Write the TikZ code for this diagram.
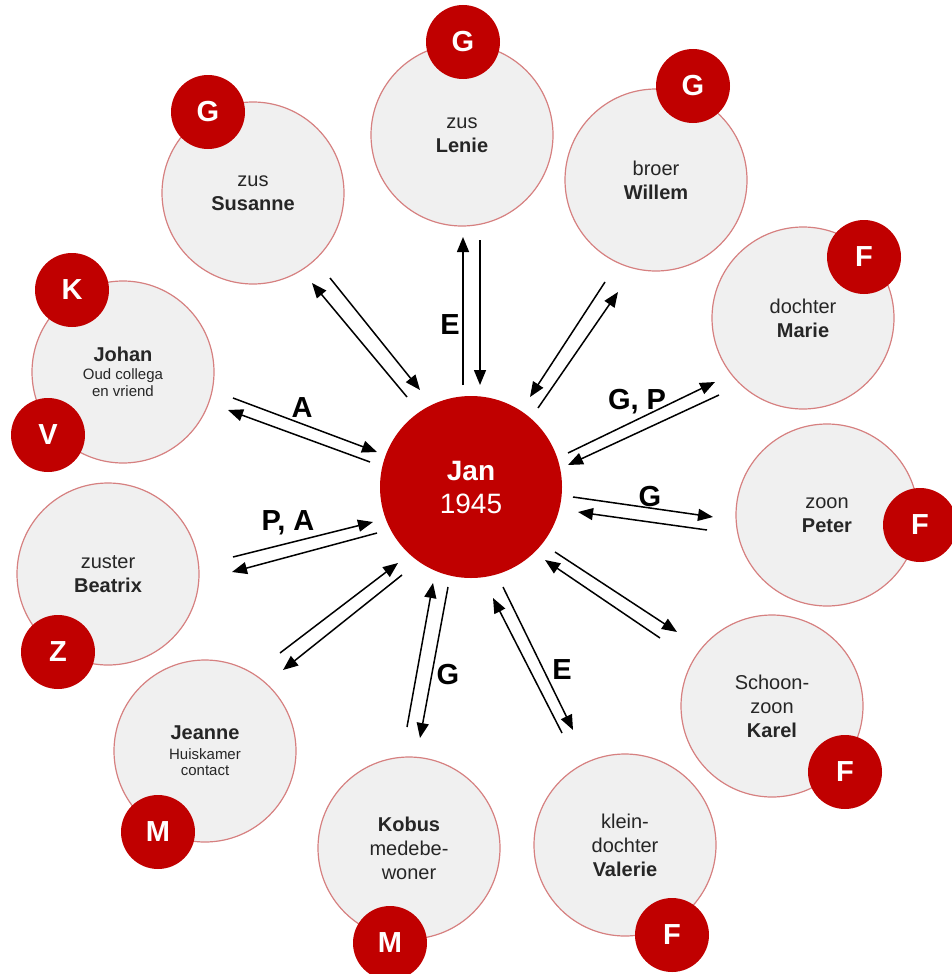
\documentclass[tikz,border=0pt]{standalone}
\usepackage{fontspec}
\setmainfont{Liberation Sans}
\usepackage{xcolor}
\usetikzlibrary{arrows.meta, calc}

\definecolor{JanRed}{RGB}{192,0,0}
\definecolor{DiscGrey}{RGB}{240,240,240}
\definecolor{RimRed}{RGB}{214,128,128}
\definecolor{InkGrey}{RGB}{38,38,38}

\newcommand{\fijn}{\fontsize{15}{17}\selectfont}

\tikzset{
	person/.style={circle, minimum size=182pt, inner sep=0pt, fill=DiscGrey, draw=RimRed, line width=1.2pt,
		text=InkGrey, align=center, font=\fontsize{20}{24}\selectfont},
	centre/.style={circle, minimum size=182pt, inner sep=0pt, fill=JanRed, text=white, align=center,
		font=\fontsize{28}{33}\selectfont},
	badge/.style={circle, minimum size=74pt, inner sep=0pt, fill=JanRed, text=white,
		font=\fontsize{29}{29}\selectfont\bfseries},
	rel/.style={line width=1.5pt, -{Triangle[length=15pt, width=12pt]}},
	tag/.style={font=\fontsize{29}{29}\selectfont\bfseries}
}

\begin{document}
\begin{tikzpicture}[x=1pt, y=-1pt]

	\useasboundingbox (0,0) rectangle (951,974);

	% kring rond Jan
	\node[person] (susanne) at (253,193) {zus\\\textbf{Susanne}};
	\node[person] (lenie) at (462,135) {zus\\\textbf{Lenie}};
	\node[person] (willem) at (656,180) {broer\\\textbf{Willem}};
	\node[person] (marie) at (803,318) {dochter\\\textbf{Marie}};
	\node[person] (peter) at (827,515) {zoon\\\textbf{Peter}};
	\node[person] (karel) at (772,706) {Schoon-\\zoon\\\textbf{Karel}};
	\node[person] (valerie) at (625,845) {klein-\\dochter\\\textbf{Valerie}};
	\node[person] (kobus) at (409,848) {\textbf{Kobus}\\medebe-\\woner};
	\node[person] (jeanne) at (205,751) {\textbf{Jeanne}\\[-4pt]\fijn Huiskamer\\[-8pt]\fijn contact};
	\node[person] (beatrix) at (108,574) {zuster\\\textbf{Beatrix}};
	\node[person] (johan) at (123,372) {\textbf{Johan}\\[-6pt]\fijn Oud collega\\[-7pt]\fijn en vriend};

	\node[centre] (jan) at (471,487) {\textbf{Jan}\\1945};

	\node[badge] (susanne-g) at (208,112) {G};
	\node[badge] (lenie-g) at (463,42) {G};
	\node[badge] (willem-g) at (693,86) {G};
	\node[badge] (marie-f) at (864,257) {F};
	\node[badge] (peter-f) at (920,525) {F};
	\node[badge] (karel-f) at (845,772) {F};
	\node[badge] (valerie-f) at (672,935) {F};
	\node[badge] (kobus-m) at (390,943) {M};
	\node[badge] (jeanne-m) at (158,832) {M};
	\node[badge] (beatrix-z) at (58,652) {Z};
	\node[badge] (johan-k) at (72,290) {K};
	\node[badge] (johan-v) at (48,435) {V};

	% eindpunten van de pijlen
	\coordinate (su1) at (407,397); \coordinate (su2) at (312,283);
	\coordinate (su3) at (330,278); \coordinate (su4) at (420,390);
	\coordinate (le1) at (463,385); \coordinate (le2) at (463,237);
	\coordinate (le3) at (480,240); \coordinate (le4) at (480,385);
	\coordinate (wi1) at (605,282); \coordinate (wi2) at (530,397);
	\coordinate (wi3) at (538,408); \coordinate (wi4) at (618,292);
	\coordinate (ma1) at (568,453); \coordinate (ma2) at (715,382);
	\coordinate (ma3) at (719,395); \coordinate (ma4) at (568,465);
	\coordinate (pe1) at (573,497); \coordinate (pe2) at (713,517);
	\coordinate (pe3) at (707,530); \coordinate (pe4) at (578,512);
	\coordinate (ka1) at (660,638); \coordinate (ka2) at (545,560);
	\coordinate (ka3) at (555,552); \coordinate (ka4) at (677,632);
	\coordinate (va1) at (562,733); \coordinate (va2) at (493,598);
	\coordinate (va3) at (503,587); \coordinate (va4) at (573,730);
	\coordinate (ko1) at (407,727); \coordinate (ko2) at (433,583);
	\coordinate (ko3) at (448,587); \coordinate (ko4) at (420,738);
	\coordinate (je1) at (280,653); \coordinate (je2) at (398,563);
	\coordinate (je3) at (402,575); \coordinate (je4) at (283,670);
	\coordinate (be1) at (233,557); \coordinate (be2) at (373,522);
	\coordinate (be3) at (377,533); \coordinate (be4) at (232,572);
	\coordinate (jo1) at (233,398); \coordinate (jo2) at (377,452);
	\coordinate (jo3) at (370,462); \coordinate (jo4) at (228,410);

	\draw[rel] (su1) -- (su2);  \draw[rel] (su3) -- (su4);
	\draw[rel] (le1) -- (le2);  \draw[rel] (le3) -- (le4);
	\draw[rel] (wi1) -- (wi2);  \draw[rel] (wi3) -- (wi4);
	\draw[rel] (ma1) -- (ma2);  \draw[rel] (ma3) -- (ma4);
	\draw[rel] (pe1) -- (pe2);  \draw[rel] (pe3) -- (pe4);
	\draw[rel] (ka1) -- (ka2);  \draw[rel] (ka3) -- (ka4);
	\draw[rel] (va1) -- (va2);  \draw[rel] (va3) -- (va4);
	\draw[rel] (ko1) -- (ko2);  \draw[rel] (ko3) -- (ko4);
	\draw[rel] (je1) -- (je2);  \draw[rel] (je3) -- (je4);
	\draw[rel] (be1) -- (be2);  \draw[rel] (be3) -- (be4);
	\draw[rel] (jo1) -- (jo2);  \draw[rel] (jo3) -- (jo4);

	\node[tag] (tag-lenie) at (450,325) {E};
	\node[tag] (tag-johan) at (302,408) {A};
	\node[tag] (tag-marie) at (637,402) {G, P};
	\node[tag] (tag-peter) at (650,497) {G};
	\node[tag] (tag-valerie) at (562,670) {E};
	\node[tag] (tag-kobus) at (448,675) {G};
	\node[tag] (tag-beatrix) at (288,523) {P, A};

\end{tikzpicture}
\end{document}
